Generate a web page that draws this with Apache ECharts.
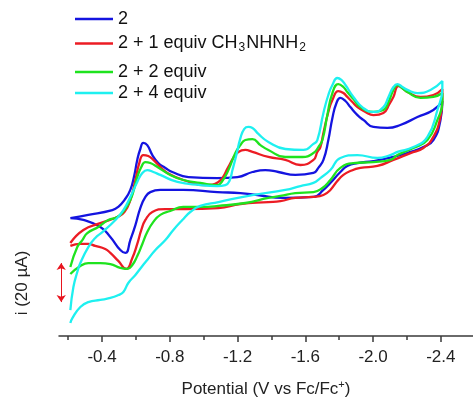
<!DOCTYPE html>
<html>
<head>
<meta charset="utf-8">
<script src="https://cdn.jsdelivr.net/npm/echarts@6/dist/echarts.min.js"></script>
<style>html,body{margin:0;padding:0;background:#fff}#c{width:473px;height:400px}</style>
</head>
<body>
<div id="c"></div>
<script>
// Potential (V vs Fc/Fc+), current (µA)
const tickValues = [-0.4, -0.8, -1.2, -1.6, -2.0, -2.4];
const minorTickValues = [-0.2, -0.6, -1.0, -1.4, -1.8, -2.2];
const seriesNames = ['2', '2 + 1 equiv CH3NHNH2', '2 + 2 equiv', '2 + 4 equiv'];

const cv0 = [[-0.213,60.5],[-0.319,62.1],[-0.461,64.6],[-0.496,66.2],[-0.532,69.7],[-0.567,74.9],[-0.591,82.6],[-0.608,90.3],[-0.626,95.9],[-0.644,99.0],[-0.667,97.9],[-0.697,92.8],[-0.732,88.7],[-0.774,86.2],[-0.815,84.1],[-0.910,81.5],[-1.081,81.0],[-1.199,81.5],[-1.288,84.1],[-1.364,85.1],[-1.441,84.1],[-1.541,82.6],[-1.648,83.6],[-1.677,86.2],[-1.707,90.3],[-1.736,100.5],[-1.760,111.8],[-1.784,119.5],[-1.807,122.1],[-1.837,120.5],[-1.866,117.4],[-1.908,113.3],[-1.943,110.8],[-2.002,107.2],[-2.085,106.7],[-2.161,108.2],[-2.262,112.3],[-2.356,115.9],[-2.409,120.5],
  [-2.398,110.8],[-2.356,100.5],[-2.297,96.9],[-2.221,94.4],[-2.120,91.8],[-2.002,89.7],[-1.908,88.7],[-1.848,87.2],[-1.807,84.1],[-1.748,78.5],[-1.707,74.9],[-1.648,71.3],[-1.471,70.8],[-1.317,72.3],[-1.217,73.3],[-1.081,73.8],[-0.880,74.9],[-0.744,74.9],[-0.685,73.8],[-0.656,71.3],[-0.626,65.6],[-0.597,56.9],[-0.567,49.2],[-0.538,42.6],[-0.508,44.1],[-0.449,50.8],[-0.390,55.9],[-0.290,59.5],[-0.213,60.5]];

const cv1 = [[-0.213,47.7],[-0.290,54.4],[-0.390,57.9],[-0.490,61.0],[-0.532,63.6],[-0.567,69.7],[-0.597,80.0],[-0.620,88.7],[-0.644,92.8],[-0.673,92.3],[-0.703,90.3],[-0.744,86.7],[-0.786,83.6],[-0.880,80.0],[-1.010,77.4],[-1.087,79.0],[-1.146,86.7],[-1.175,91.3],[-1.205,94.4],[-1.246,95.4],[-1.288,94.4],[-1.382,91.8],[-1.482,90.3],[-1.571,87.7],[-1.648,90.3],[-1.671,94.4],[-1.689,96.9],[-1.707,104.1],[-1.736,114.9],[-1.760,121.0],[-1.795,125.6],[-1.825,124.6],[-1.848,122.6],[-1.878,120.0],[-1.908,117.4],[-1.955,114.9],[-2.002,113.3],[-2.061,114.4],[-2.097,119.0],[-2.120,122.6],[-2.150,128.2],[-2.179,126.7],[-2.203,125.1],[-2.280,122.6],[-2.356,123.6],[-2.409,126.7],
  [-2.409,121.0],[-2.398,112.3],[-2.356,102.1],[-2.297,96.4],[-2.221,93.8],[-2.120,90.3],[-2.026,87.2],[-1.925,86.2],[-1.866,84.6],[-1.825,82.6],[-1.789,79.5],[-1.748,74.9],[-1.707,72.3],[-1.648,71.3],[-1.541,70.8],[-1.453,69.2],[-1.382,68.7],[-1.217,67.7],[-1.087,65.6],[-0.892,65.1],[-0.774,65.1],[-0.697,63.6],[-0.656,59.5],[-0.632,54.4],[-0.608,47.2],[-0.579,40.0],[-0.543,34.4],[-0.496,38.5],[-0.449,42.6],[-0.419,44.6],[-0.360,46.2],[-0.319,47.2],[-0.272,47.2],[-0.213,46.2]];

const cv2 = [[-0.213,35.4],[-0.254,45.6],[-0.284,49.2],[-0.313,52.8],[-0.378,55.9],[-0.437,59.5],[-0.490,61.0],[-0.532,64.6],[-0.567,69.7],[-0.591,75.9],[-0.608,81.5],[-0.632,86.7],[-0.656,89.2],[-0.685,88.7],[-0.727,86.7],[-0.803,82.6],[-0.880,80.0],[-0.980,78.5],[-1.081,77.4],[-1.110,79.5],[-1.146,85.1],[-1.187,93.8],[-1.217,97.9],[-1.246,100.5],[-1.288,101.0],[-1.335,97.9],[-1.382,95.4],[-1.482,91.8],[-1.583,91.8],[-1.648,93.8],[-1.677,96.9],[-1.701,100.5],[-1.730,113.3],[-1.760,124.6],[-1.795,129.2],[-1.825,127.7],[-1.848,125.1],[-1.884,121.5],[-1.925,117.4],[-2.002,114.9],[-2.061,115.9],[-2.091,120.0],[-2.120,126.2],[-2.144,128.7],[-2.179,126.7],[-2.203,125.1],[-2.280,122.1],[-2.356,122.6],[-2.409,124.6],
  [-2.409,120.0],[-2.380,110.8],[-2.321,100.5],[-2.238,96.4],[-2.144,92.8],[-2.102,90.3],[-2.002,89.2],[-1.884,88.7],[-1.807,86.2],[-1.748,80.0],[-1.701,75.9],[-1.648,73.8],[-1.541,73.3],[-1.453,71.8],[-1.382,70.8],[-1.246,68.2],[-1.087,66.7],[-0.980,66.2],[-0.880,66.2],[-0.803,64.1],[-0.744,62.1],[-0.703,58.5],[-0.667,53.3],[-0.638,47.2],[-0.608,41.0],[-0.579,36.4],[-0.549,34.4],[-0.508,34.9],[-0.449,36.9],[-0.390,37.4],[-0.319,37.4],[-0.272,35.9],[-0.213,31.8]];

const cv4 = [[-0.213,13.3],[-0.231,25.1],[-0.254,32.8],[-0.272,37.4],[-0.319,45.6],[-0.360,50.3],[-0.402,53.3],[-0.479,59.5],[-0.526,64.6],[-0.567,71.3],[-0.608,79.0],[-0.638,83.6],[-0.667,85.1],[-0.703,84.1],[-0.744,82.6],[-0.845,79.0],[-0.980,77.4],[-1.081,76.9],[-1.128,77.4],[-1.152,79.5],[-1.170,85.1],[-1.193,92.8],[-1.217,101.5],[-1.240,106.2],[-1.264,107.2],[-1.288,106.7],[-1.323,103.6],[-1.382,99.5],[-1.482,95.9],[-1.589,95.4],[-1.648,98.5],[-1.671,100.5],[-1.707,114.4],[-1.736,123.6],[-1.760,128.7],[-1.789,132.3],[-1.813,131.3],[-1.837,128.7],[-1.884,122.6],[-1.943,116.9],[-2.002,114.9],[-2.061,117.4],[-2.091,122.6],[-2.120,127.7],[-2.144,129.2],[-2.173,127.7],[-2.203,126.2],[-2.262,124.6],[-2.339,126.2],[-2.409,130.8],
  [-2.409,127.2],[-2.380,115.9],[-2.321,102.1],[-2.238,96.9],[-2.144,94.4],[-2.102,92.8],[-2.026,91.3],[-1.908,92.8],[-1.807,91.3],[-1.748,85.1],[-1.689,81.0],[-1.648,78.5],[-1.571,76.9],[-1.482,74.9],[-1.288,72.3],[-1.087,68.7],[-0.980,66.7],[-0.921,63.6],[-0.874,59.5],[-0.821,54.4],[-0.774,49.2],[-0.715,44.1],[-0.667,39.0],[-0.638,35.9],[-0.597,31.3],[-0.555,27.2],[-0.526,22.6],[-0.496,21.0],[-0.449,19.5],[-0.390,18.5],[-0.319,17.4],[-0.272,14.9],[-0.225,9.2],[-0.213,6.7]];

// 20 µA scale bar
const scaleBar = {potential: -0.159, from: 17.4, to: 37.4};

const colors = ['#1414e0', '#ec1c24', '#1ee31e', '#1ef0f0'];
const FONT = 'Liberation Sans, Arial, sans-serif';

const chart = echarts.init(document.getElementById('c'), null, {renderer: 'canvas'});
const datasets = [cv0, cv1, cv2, cv4];

const series = datasets.map((d, i) => ({
  name: seriesNames[i],
  type: 'line',
  data: d,
  symbol: 'none',
  showSymbol: false,
  smooth: 0.5,
  lineStyle: {width: 2.3, color: colors[i]},
  itemStyle: {color: colors[i]},
  z: 2 + i
}));
series[0].markLine = {
  silent: true,
  symbol: ['arrow', 'arrow'],
  symbolSize: [7, 7],
  label: {show: false},
  lineStyle: {color: '#e8141e', width: 1, type: 'solid'},
  data: [[{coord: [scaleBar.potential, scaleBar.from]}, {coord: [scaleBar.potential, scaleBar.to]}]]
};

const legendText = {
  fontSize: 18, fontFamily: FONT, color: '#111', lineHeight: 18,
  rich: {s: {fontSize: 12, fontFamily: FONT, color: '#111', lineHeight: 10, padding: [9, 1, 0, 1]}}
};
const legendFmt = n => n === seriesNames[1] ? '2 + 1 equiv CH{s|3}NHNH{s|2}' : n;

const option = {
  animation: false,
  backgroundColor: '#fff',
  grid: {left: 59, right: 0, top: 43.5, bottom: 64, containLabel: false, outerBoundsMode: 'none'},
  legend: [{
    data: [seriesNames[0], seriesNames[1]],
    orient: 'vertical', left: 70, top: 5, itemGap: 5,
    icon: 'rect', itemWidth: 38, itemHeight: 2.5,
    selectedMode: false, formatter: legendFmt, textStyle: legendText
  }, {
    data: [seriesNames[2], seriesNames[3]],
    orient: 'vertical', left: 70, top: 58, itemGap: 3,
    icon: 'rect', itemWidth: 38, itemHeight: 2.5,
    selectedMode: false, formatter: legendFmt, textStyle: legendText
  }],
  xAxis: [{
    type: 'value', min: -2.59, max: -0.146, inverse: true, position: 'bottom',
    axisLine: {show: true, onZero: false, lineStyle: {color: '#3a3a3a', width: 1.5}},
    axisTick: {show: true, customValues: tickValues, length: 6, lineStyle: {color: '#3a3a3a', width: 1.5}},
    axisLabel: {customValues: tickValues, formatter: v => v.toFixed(1), fontSize: 17, fontFamily: FONT, color: '#222', margin: 13},
    splitLine: {show: false},
    name: 'Potential (V vs Fc/Fc{sup|+})', nameLocation: 'middle', nameGap: 45,
    nameTextStyle: {fontSize: 17, fontFamily: FONT, color: '#222',
      rich: {sup: {fontSize: 11, fontFamily: FONT, color: '#222', lineHeight: 10, padding: [0, 0, 9, 0]}}}
  }, {
    type: 'value', min: -2.59, max: -0.146, inverse: true, position: 'bottom', offset: 0,
    axisLine: {show: false},
    axisTick: {show: true, customValues: minorTickValues, length: 4, lineStyle: {color: '#3a3a3a', width: 1.5}},
    axisLabel: {show: false},
    splitLine: {show: false}
  }],
  yAxis: {type: 'value', min: 0, max: 150, show: false},
  graphic: [{
    type: 'text', x: 22, y: 283, rotation: Math.PI / 2,
    style: {text: 'i (20 µA)', fontSize: 17, fontFamily: FONT, fill: '#222', align: 'center', verticalAlign: 'middle'}
  }],
  series: series
};
chart.setOption(option);
</script>
</body>
</html>
